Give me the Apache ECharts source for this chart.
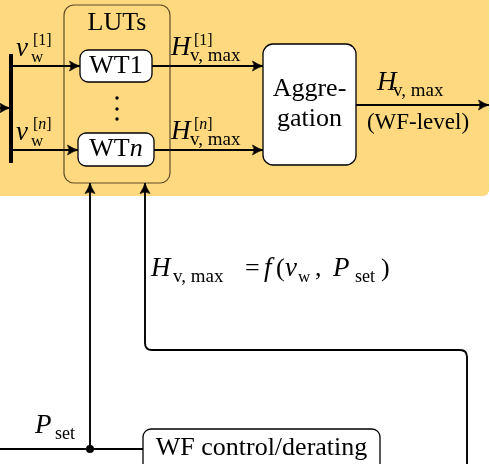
<!DOCTYPE html>
<html>
<head>
<meta charset="utf-8">
<script src="https://cdn.jsdelivr.net/npm/echarts@6/dist/echarts.min.js"></script>
<style>
html, body { margin: 0; padding: 0; background: #fff; }
#diagram { width: 490px; height: 464px; }
</style>
</head>
<body>
<div id="diagram"></div>
<script>
let chart = echarts.init(document.getElementById('diagram'));
const serif = '"Liberation Serif", "Times New Roman", serif';

// blocks of the diagram and their texts
const blockIds = ['area', 'luts', 'wt1', 'wtn', 'agg', 'wf'];
const blockTexts = ['', 'LUTs', 'WT1', 'WT{i|n}', 'Aggre-\ngation', 'WF control/derating'];

// signal connections, true = ends with an arrow
const wireIds = ['in', 'v1', 'vn', 'h1', 'hn', 'out', 'pset', 'hfb', 'feed'];
const wireArrows = [true, true, true, true, true, true, true, true, false];

// math labels, split in pieces (base / superscript / subscript)
const labelTexts = [
    '{i|v}', '[1]', 'w',
    '{i|v}', '[{i|n}]', 'w',
    '{i|H}', '[1]', 'v, max',
    '{i|H}', '[{i|n}]', 'v, max',
    '{i|H}', 'v, max', '(WF-level)',
    '{i|P}', 'set',
    '{i|H}', 'v, max', '=', '{i|f}', '(', '{i|v}', 'w', ',', '{i|P}', 'set', ')'
];

// ---- layout (pixel units of the 490 x 464 page) ----
const boxLayout = {
    area: { rect: [-6, -6, 495, 202], r: 6, fill: '#fed980', stroke: null },
    luts: { rect: [64, 5, 106, 178], r: 10, fill: null, stroke: 'rgba(40,30,10,0.75)', lw: 1.2, textY: 23 },
    wt1: { rect: [80, 50, 72, 32], r: 8, fill: '#fff', stroke: '#000', lw: 1.3 },
    wtn: { rect: [78, 133, 76, 33], r: 8, fill: '#fff', stroke: '#000', lw: 1.3 },
    agg: { rect: [263, 44, 93, 121], r: 10, fill: '#fff', stroke: '#000', lw: 1.3, lineHeight: 30 },
    wf: { rect: [143, 429, 237, 50], r: 8, fill: '#fff', stroke: '#000', lw: 1.3, textY: 448 }
};
const wireLayout = {
    in: [[0, 108], [10, 108]],
    v1: [[12, 66], [80, 66]],
    vn: [[12, 150], [78, 150]],
    h1: [[152, 66], [263, 66]],
    hn: [[154, 150], [263, 150]],
    out: [[356, 105], [489, 105]],
    pset: [[90, 449], [90, 183]],
    hfb: [[467, 470], [467, 350], [145, 350], [145, 183]],
    feed: [[-2, 449], [143, 449]]
};
const busBar = [[11, 54], [11, 163]];
const junction = [90, 449];
const dots = [[117, 98], [117, 109], [117, 119]];
// [x, baseline, fontSize, align]
const labelLayout = [
    [16, 58, 27], [33, 46, 16], [31, 63, 17],
    [16, 142, 27], [33, 130, 16], [31, 147, 17],
    [171, 57, 27], [194, 46, 16], [190, 62, 19],
    [171, 141, 27], [194, 130, 16], [190, 146, 19],
    [377, 92, 27], [393, 97, 19], [418, 131, 23, 'center'],
    [35, 435, 27], [55, 440, 18],
    [151, 278, 27], [173, 283, 19], [245, 278, 26], [264, 278, 27], [276, 278, 26],
    [285, 278, 27], [298, 283, 17], [315, 278, 26], [333, 278, 27], [355, 283, 18], [381, 278, 26]
];

function fmt(p) {
    return p[0].toFixed(2) + ' ' + p[1].toFixed(2);
}
function unit(a, b) {
    let dx = b[0] - a[0], dy = b[1] - a[1];
    let len = Math.sqrt(dx * dx + dy * dy);
    return [dx / len, dy / len];
}
function arrowHead(p, d) {
    let n = [-d[1], d[0]];
    let pt = (u, v) => [p[0] + u * d[0] + v * n[0], p[1] + u * d[1] + v * n[1]];
    return 'M' + fmt(pt(-10.5, 5)) + 'Q' + fmt(pt(-4.5, 1.2)) + ' ' + fmt(p) +
        'Q' + fmt(pt(-4.5, -1.2)) + ' ' + fmt(pt(-10.5, -5)) +
        'Q' + fmt(pt(-7.5, 0)) + ' ' + fmt(pt(-10.5, 5)) + 'Z';
}
function wirePath(pts, r) {
    let s = 'M' + fmt(pts[0]);
    for (let i = 1; i < pts.length - 1; i++) {
        let p = pts[i];
        let d1 = unit(pts[i - 1], p), d2 = unit(p, pts[i + 1]);
        s += 'L' + fmt([p[0] - d1[0] * r, p[1] - d1[1] * r]) +
            'Q' + fmt(p) + ' ' + fmt([p[0] + d2[0] * r, p[1] + d2[1] * r]);
    }
    return s + 'L' + fmt(pts[pts.length - 1]);
}
function italicRich(size) {
    return { i: { fontFamily: serif, fontStyle: 'italic', fontSize: size, color: '#000' } };
}

function renderBox(params, api) {
    let id = blockIds[params.dataIndex];
    let b = boxLayout[id];
    let p0 = api.coord([b.rect[0], b.rect[1]]);
    let p1 = api.coord([b.rect[0] + b.rect[2], b.rect[1] + b.rect[3]]);
    let children = [{
        type: 'rect',
        shape: { x: p0[0], y: p0[1], width: p1[0] - p0[0], height: p1[1] - p0[1], r: b.r },
        style: { fill: b.fill || 'none', stroke: b.stroke || 'none', lineWidth: b.lw || 0 }
    }];
    let text = blockTexts[params.dataIndex];
    if (text) {
        let cy = b.textY !== undefined ? api.coord([0, b.textY])[1] : (p0[1] + p1[1]) / 2;
        children.push({
            type: 'text',
            style: {
                x: (p0[0] + p1[0]) / 2, y: cy, text: text,
                fontFamily: serif, fontSize: 26, fill: '#000',
                align: 'center', verticalAlign: 'middle',
                lineHeight: b.lineHeight, rich: italicRich(26)
            }
        });
    }
    return { type: 'group', children: children };
}

function renderWire(params, api) {
    let i = params.dataIndex;
    let pts = wireLayout[wireIds[i]].map(p => api.coord(p));
    let children = [{
        type: 'path',
        shape: { pathData: wirePath(pts, 7) },
        style: { fill: 'none', stroke: '#000', lineWidth: 1.9 }
    }];
    if (wireArrows[i]) {
        let n = pts.length;
        children.push({
            type: 'path',
            shape: { pathData: arrowHead(pts[n - 1], unit(pts[n - 2], pts[n - 1])) },
            style: { fill: '#000', stroke: '#000', lineWidth: 0.6 }
        });
    }
    if (i === 0) {
        let b0 = api.coord(busBar[0]), b1 = api.coord(busBar[1]);
        children.push({
            type: 'line',
            shape: { x1: b0[0], y1: b0[1], x2: b1[0], y2: b1[1] },
            style: { stroke: '#000', lineWidth: 4 }
        });
        let j = api.coord(junction);
        children.push({ type: 'circle', shape: { cx: j[0], cy: j[1], r: 4 }, style: { fill: '#000' } });
        dots.forEach(d => {
            let c = api.coord(d);
            children.push({ type: 'circle', shape: { cx: c[0], cy: c[1], r: 1.7 }, style: { fill: '#000' } });
        });
    }
    return { type: 'group', children: children };
}

function renderLabel(params, api) {
    let l = labelLayout[params.dataIndex];
    let p = api.coord([l[0], l[1]]);
    return {
        type: 'text',
        style: {
            x: p[0], y: p[1] - 0.34 * l[2],
            text: labelTexts[params.dataIndex],
            fontFamily: serif, fontSize: l[2], fill: '#000',
            align: l[3] || 'left', verticalAlign: 'middle',
            rich: italicRich(l[2])
        }
    };
}

let options = {
    animation: false,
    backgroundColor: '#fff',
    grid: { left: 0, right: 0, top: 0, bottom: 0 },
    xAxis: { type: 'value', min: 0, max: 490, show: false },
    yAxis: { type: 'value', min: 0, max: 464, inverse: true, show: false },
    series: [{
        type: 'custom',
        name: 'background',
        coordinateSystem: 'cartesian2d',
        renderItem: renderBox,
        data: [[0, 0]],
        z: 1,
        silent: true
    }, {
        type: 'custom',
        name: 'wires',
        coordinateSystem: 'cartesian2d',
        renderItem: renderWire,
        data: wireIds.map((id, i) => [i, 0]),
        z: 2,
        silent: true
    }, {
        type: 'custom',
        name: 'blocks',
        coordinateSystem: 'cartesian2d',
        renderItem: (params, api) => renderBox({ dataIndex: params.dataIndex + 1 }, api),
        data: blockIds.slice(1).map((id, i) => [i, 0]),
        z: 3,
        silent: true
    }, {
        type: 'custom',
        name: 'labels',
        coordinateSystem: 'cartesian2d',
        renderItem: renderLabel,
        data: labelTexts.map((t, i) => [i, 0]),
        z: 4,
        silent: true
    }]
};
chart.setOption(options);
</script>
</body>
</html>
